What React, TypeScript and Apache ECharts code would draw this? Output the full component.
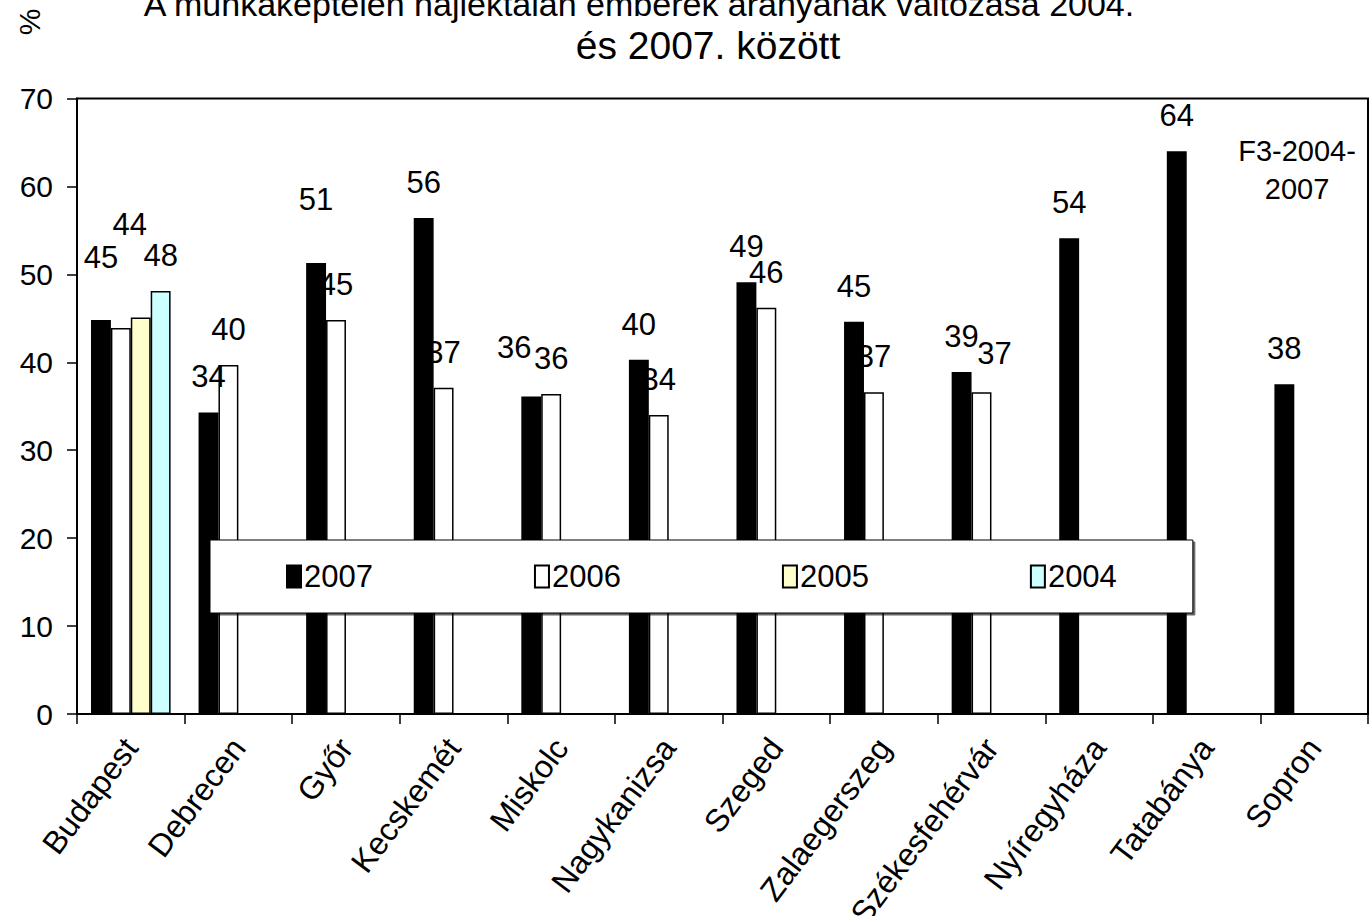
import React, { useEffect, useRef } from "react";
import * as echarts from "echarts";

const categories = [
  "Budapest",
  "Debrecen",
  "Győr",
  "Kecskemét",
  "Miskolc",
  "Nagykanizsa",
  "Szeged",
  "Zalaegerszeg",
  "Székesfehérvár",
  "Nyíregyháza",
  "Tatabánya",
  "Sopron",
];
const values2007 = [44.8, 34.3, 51.3, 56.4, 36.1, 40.3, 49.1, 44.6, 38.9, 54.1, 64.0, 37.5];
const values2006 = [43.9, 39.7, 44.8, 37.1, 36.4, 34.0, 46.2, 36.6, 36.6, null, null, null];
const values2005 = [45.1, null, null, null, null, null, null, null, null, null, null, null];
const values2004 = [48.1, null, null, null, null, null, null, null, null, null, null, null];
const seriesNames = ["2007", "2006", "2005", "2004"];
const titleLine1 = "A munkaképtelen hajléktalan emberek arányának változása 2004.";
const titleLine2 = "és 2007. között";
const noteText = "F3-2004-\n2007";
const yUnit = "%";

const FONT = "'Liberation Sans', Arial, sans-serif";

// label placement tweaks (layout only): [dx, dy] or "hide"
const labelTweaks: Record<string, Record<number, number[] | "hide">> = {
  "2007": { 0: [0, -27], 2: [0, -28], 4: [-17, -14] },
  "2006": { 0: [9, -68], 8: [13, -3] },
  "2005": { 0: "hide" },
  "2004": {},
};

function buildData(name: string, vals: (number | null)[]) {
  return vals.map((v, i) => {
    if (v == null) return null;
    const t = labelTweaks[name][i];
    if (t === "hide") return { value: v, label: { show: false } };
    if (t) return { value: v, label: { offset: t } };
    return v;
  });
}

export default function App() {
  const ref = useRef<HTMLDivElement>(null);
  useEffect(() => {
    if (!ref.current) return;
    const chart = echarts.init(ref.current, null, { renderer: "svg" });
    const colors = ["#000000", "#FFFFFF", "#FFFFCC", "#CCFFFF"];
    const allVals = [values2007, values2006, values2005, values2004];
    const zs = [5, 4, 3, 3];
    const option: any = {
      animation: false,
      backgroundColor: "#ffffff",
      textStyle: { fontFamily: FONT, color: "#000" },
      grid: {
        left: 77,
        right: 1,
        top: 98.5,
        bottom: 202,
        show: true,
        borderColor: "#000",
        borderWidth: 2,
        containLabel: false,
        outerBoundsMode: "none",
      },
      legend: {
        data: seriesNames,
        left: 210,
        top: 540,
        orient: "horizontal",
        icon: "rect",
        itemWidth: 14,
        itemHeight: 22,
        itemGap: 161,
        padding: [21, 76, 21, 76],
        backgroundColor: "#ffffff",
        borderColor: "#000",
        borderWidth: 1,
        shadowColor: "rgba(0,0,0,0.6)",
        shadowOffsetX: 2,
        shadowOffsetY: 2,
        z: 10,
        textStyle: { fontFamily: FONT, fontSize: 31, color: "#000", padding: [0, 0, 0, -2] },
        selectedMode: false,
      },
      xAxis: {
        type: "category",
        data: categories,
        axisLine: { lineStyle: { color: "#000", width: 2 } },
        axisTick: { show: true, length: 10, lineStyle: { color: "#000", width: 1.5 } },
        axisLabel: {
          rotate: 53,
          fontSize: 32,
          fontFamily: FONT,
          color: "#000",
          margin: 28,
          interval: 0,
          hideOverlap: false,
        },
        splitLine: { show: false },
      },
      yAxis: {
        type: "value",
        min: 0,
        max: 70,
        interval: 10,
        axisLine: { show: true, lineStyle: { color: "#000", width: 2 } },
        axisTick: { show: true, length: 10, lineStyle: { color: "#000", width: 1.5 } },
        axisLabel: { fontSize: 30, fontFamily: FONT, color: "#000", margin: 24 },
        splitLine: { show: false },
      },
      graphic: [
        {
          type: "text",
          x: 639,
          y: 4,
          style: {
            text: titleLine1,
            fontSize: 34,
            fontFamily: FONT,
            fill: "#000",
            align: "center",
            verticalAlign: "middle",
          },
          z: 20,
        },
        {
          type: "text",
          x: 708,
          y: 45,
          style: {
            text: titleLine2,
            fontSize: 39,
            fontFamily: FONT,
            fill: "#000",
            align: "center",
            verticalAlign: "middle",
          },
          z: 20,
        },
        {
          type: "text",
          x: 29,
          y: 22,
          rotation: Math.PI / 2,
          style: {
            text: yUnit,
            fontSize: 30,
            fontFamily: FONT,
            fill: "#000",
            align: "center",
            verticalAlign: "middle",
          },
          z: 20,
        },
        {
          type: "text",
          x: 1297,
          y: 170,
          style: {
            text: noteText,
            fontSize: 29,
            lineHeight: 38,
            fontFamily: FONT,
            fill: "#000",
            align: "center",
            verticalAlign: "middle",
          },
          z: 20,
        },
      ],
      series: seriesNames.map((name, si) => ({
        name,
        type: "bar",
        data: buildData(name, allVals[si]),
        barGap: "0%",
        barCategoryGap: "26%",
        z: zs[si],
        itemStyle: {
          color: colors[si],
          borderColor: "#000",
          borderWidth: 1.5,
        },
        label: {
          show: true,
          position: "top",
          distance: 20,
          fontSize: 31,
          fontFamily: FONT,
          color: "#000",
          formatter: (p: any) => String(Math.round(p.value)),
        },
      })),
    };
    chart.setOption(option);
    return () => chart.dispose();
  }, []);
  return (
    <div
      ref={ref}
      style={{ position: "fixed", left: 0, top: 0, width: 1369, height: 916, background: "#fff" }}
    />
  );
}
